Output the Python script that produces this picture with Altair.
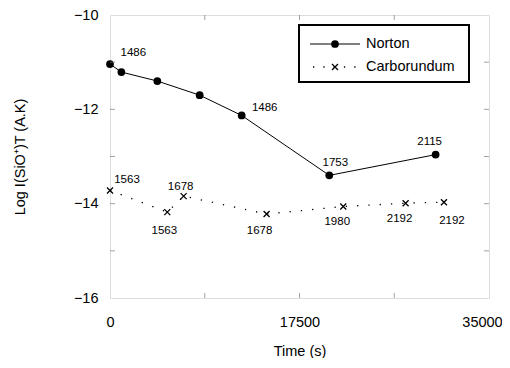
import altair as alt
import pandas as pd

# ---- data ----
norton_time = [0, 1050, 4370, 8280, 12160, 20250, 30070]
norton_val = [-11.04, -11.21, -11.40, -11.70, -12.13, -13.40, -12.96]
norton_lbl = ["", "1486", "", "", "1486", "1753", "2115"]

carb_time = [0, 5290, 6800, 14460, 21540, 27300, 30840]
carb_val = [-13.72, -14.18, -13.84, -14.22, -14.06, -13.99, -13.97]
carb_lbl = ["1563", "1563", "1678", "1678", "1980", "2192", "2192"]

x_labels = [0, 17500, 35000]
y_labels = [-16, -14, -12, -10]
x_minor = [8750, 17500, 26250]
y_minor = [-15, -14, -13, -12, -11]

W, H = 379, 283
FONT = "Liberation Sans"
GRAY = "#7a7a7a"

nort = pd.DataFrame({"t": norton_time, "v": norton_val, "lbl": norton_lbl,
                     "i": list(range(len(norton_time)))})
carb = pd.DataFrame({"t": carb_time, "v": carb_val, "lbl": carb_lbl,
                     "i": list(range(len(carb_time)))})

xs = alt.Scale(domain=[0, 35000], nice=False, zero=False)
ys = alt.Scale(domain=[-16, -10], nice=False, zero=False)

X = alt.X("t:Q", scale=xs, title="Time (s)",
          axis=alt.Axis(values=x_labels, ticks=False, domain=False, grid=False,
                        labelPadding=17, labelFontSize=14.5, labelFont=FONT,
                        labelColor="black", titleFont=FONT, titleFontSize=14.5,
                        titleFontWeight="normal", titleColor="black",
                        titleY=53, titleBaseline="middle", format="d",
                        labelFlush=False, labelOverlap=False,
                        labelOffset={"condition": {"test": "datum.value == 35000",
                                                   "value": -7},
                                     "value": 0}))
Y = alt.Y("v:Q", scale=ys, title="Log I(SiO⁺)T (A.K)",
          axis=alt.Axis(values=y_labels, ticks=False, domain=False, grid=False,
                        labelPadding=12, labelFontSize=14.5, labelFont=FONT,
                        labelColor="black", titleFont=FONT, titleFontSize=14.5,
                        titleFontWeight="normal", titleColor="black",
                        titleX=-90, titleY=H / 2, titleAngle=-90,
                        titleAlign="center", titleBaseline="middle"))

XPATH = "M-1,-1L1,1M-1,1L1,-1"

n_line = alt.Chart(nort).mark_line(color="black", strokeWidth=1).encode(x=X, y=Y)
n_pts = alt.Chart(nort).mark_point(shape="circle", filled=True, color="black",
                                    size=60, opacity=1).encode(x="t:Q", y="v:Q")
c_line = alt.Chart(carb).mark_line(color="black", strokeWidth=1.3,
                                   strokeDash=[1.3, 10]).encode(x="t:Q", y="v:Q")
c_pts = alt.Chart(carb).mark_point(shape=XPATH, filled=False, color="black",
                                   size=36, strokeWidth=1.3, opacity=1).encode(
    x="t:Q", y="v:Q")

# label offsets (pixels) per point index
n_off = {1: (12, -19), 4: (23, -7), 5: (6, -12), 6: (-6, -13)}
c_off = {0: (17, -10), 1: (-3, 19), 2: (-3, -9), 3: (-7, 17),
         4: (-6, 16), 5: (-6, 16), 6: (8, 19)}

labels = []
for df, offs in ((nort, n_off), (carb, c_off)):
    for i, (dx, dy) in offs.items():
        labels.append(
            alt.Chart(df).transform_filter(alt.datum.i == i).mark_text(
                font=FONT, fontSize=11.5, color="black", dx=dx, dy=dy,
                align="center", baseline="middle").encode(
                x="t:Q", y="v:Q", text="lbl:N"))

# inward minor ticks
tx = pd.DataFrame({"t": x_minor})
ty = pd.DataFrame({"v": y_minor})
ticks = [
    alt.Chart(tx).mark_tick(orient="vertical", color=GRAY, size=5, thickness=1).encode(
        x="t:Q", y=alt.value(H - 2.5)),
    alt.Chart(tx).mark_tick(orient="vertical", color=GRAY, size=5, thickness=1).encode(
        x="t:Q", y=alt.value(2.5)),
    alt.Chart(ty).mark_tick(orient="horizontal", color=GRAY, size=5, thickness=1).encode(
        y="v:Q", x=alt.value(2.5)),
    alt.Chart(ty).mark_tick(orient="horizontal", color=GRAY, size=5, thickness=1).encode(
        y="v:Q", x=alt.value(W - 2.5)),
]

# legend
one = pd.DataFrame({"a": [0]})
lg_box = alt.Chart(one).mark_rect(fill="white", stroke="black", strokeWidth=2).encode(
    x=alt.value(189), x2=alt.value(359), y=alt.value(10), y2=alt.value(67))
lg_n_line = alt.Chart(one).mark_rule(color="black", strokeWidth=1).encode(
    x=alt.value(200), x2=alt.value(250), y=alt.value(29))
lg_c_line = alt.Chart(one).mark_rule(color="black", strokeWidth=1.3,
                                     strokeDash=[1.3, 9]).encode(
    x=alt.value(203), x2=alt.value(250), y=alt.value(52))
lg_n_pt = alt.Chart(one).mark_point(shape="circle", filled=True, color="black",
                                     size=60, opacity=1).encode(
    x=alt.value(225), y=alt.value(29))
lg_c_pt = alt.Chart(one).mark_point(shape=XPATH, filled=False, color="black",
                                     size=36, strokeWidth=1.3, opacity=1).encode(
    x=alt.value(225), y=alt.value(52))
lg_n_t = alt.Chart(one).mark_text(text="Norton", font=FONT, fontSize=14.5,
                                   align="left", baseline="middle", color="black").encode(
    x=alt.value(256), y=alt.value(29))
lg_c_t = alt.Chart(one).mark_text(text="Carborundum", font=FONT, fontSize=14.5,
                                   align="left", baseline="middle", color="black").encode(
    x=alt.value(256), y=alt.value(52))

chart = alt.layer(
    n_line, c_line, n_pts, c_pts, *labels, *ticks,
    lg_box, lg_n_line, lg_c_line, lg_n_pt, lg_c_pt, lg_n_t, lg_c_t
).properties(
    width=W, height=H,
    autosize=alt.AutoSizeParams(type="none"),
    padding={"left": 102, "top": 7, "right": 13, "bottom": 60},
).configure_view(
    stroke=GRAY, strokeWidth=1.5
).configure(background="white")

chart.save("out.html", embed_options={"renderer": "svg", "actions": False})
